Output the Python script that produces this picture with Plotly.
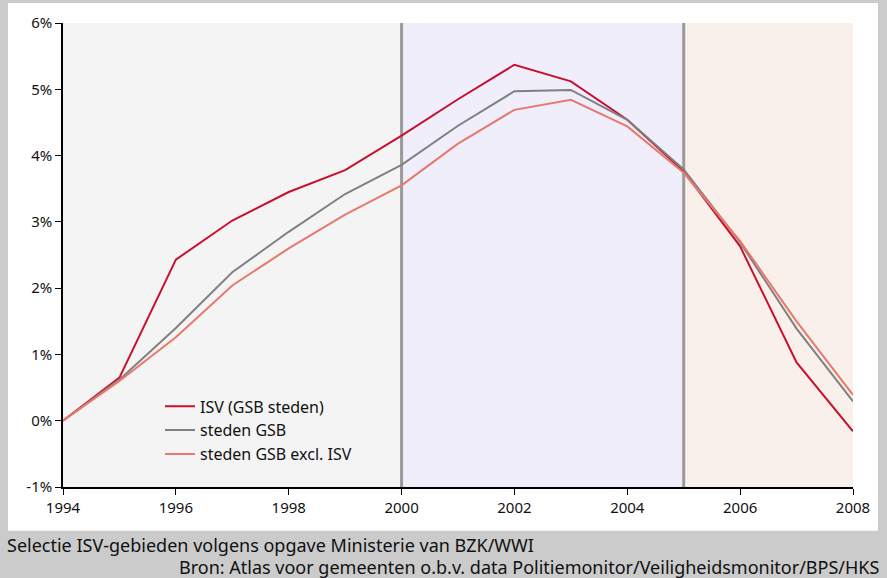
import plotly.graph_objects as go

years = list(range(1994, 2009))
isv = [0.0, 0.65, 2.43, 3.02, 3.45, 3.78, 4.30, 4.85, 5.37, 5.12, 4.54, 3.76, 2.63, 0.88, -0.16]
gsb = [0.0, 0.62, 1.40, 2.24, 2.85, 3.42, 3.86, 4.45, 4.97, 4.99, 4.54, 3.79, 2.69, 1.39, 0.29]
gsb_excl = [0.0, 0.60, 1.26, 2.04, 2.60, 3.11, 3.55, 4.18, 4.69, 4.84, 4.44, 3.74, 2.71, 1.50, 0.39]
names = ["ISV (GSB steden)", "steden GSB", "steden GSB excl. ISV"]
colors = ["#c8102e", "#808080", "#e8786c"]
y_ticks = [-1, 0, 1, 2, 3, 4, 5, 6]
y_tick_text = ["-1%", "0%", "1%", "2%", "3%", "4%", "5%", "6%"]
x_ticks = list(range(1994, 2009, 2))
periods = [(1994, 2000, "#f4f4f4"), (2000, 2005, "#efeefa"), (2005, 2008, "#f9f0ec")]
dividers = [2000, 2005]
footer1 = "Selectie ISV-gebieden volgens opgave Ministerie van BZK/WWI"
footer2 = "Bron: Atlas voor gemeenten o.b.v. data Politiemonitor/Veiligheidsmonitor/BPS/HKS"

W, H = 887, 578
L, R, T, B = 63, 853, 21, 487
pw, ph = R - L, B - T

def px(x):
    return (x - L) / pw

def py(y):
    return (B - y) / ph

fig = go.Figure()
for name, vals, c in zip(names, [isv, gsb, gsb_excl], colors):
    fig.add_trace(go.Scatter(x=years, y=vals, name=name, mode="lines",
                             line=dict(color=c, width=2)))

shapes = []
# white panel
shapes.append(dict(type="rect", xref="paper", yref="paper", x0=px(8), x1=px(878),
                   y0=py(531), y1=py(1), fillcolor="white", line=dict(width=0), layer="below"))
for a, b, c in periods:
    shapes.append(dict(type="rect", xref="x", yref="paper", x0=a, x1=b, y0=0, y1=1,
                       fillcolor=c, line=dict(width=0), layer="below"))
for d in dividers:
    shapes.append(dict(type="line", xref="x", yref="paper", x0=d, x1=d, y0=0, y1=1,
                       line=dict(color="#9a9a9a", width=3), layer="below"))

font = "Noto Sans"
fig.update_layout(
    width=W, height=H,
    margin=dict(l=L, r=W - R, t=T, b=H - B),
    paper_bgcolor="#cbcbcb",
    plot_bgcolor="rgba(0,0,0,0)",
    shapes=shapes,
    font=dict(family=font, size=15, color="#111111"),
    showlegend=True,
    legend=dict(x=px(160), y=py(389), xanchor="left", yanchor="top",
                bgcolor="rgba(0,0,0,0)", font=dict(size=16), tracegroupgap=0,
                itemwidth=30),
    xaxis=dict(range=[1994, 2008], tickvals=x_ticks, ticks="outside", ticklen=6,
               tickcolor="black", showline=True, linecolor="black", linewidth=1.5,
               showgrid=False, zeroline=False, tickfont=dict(size=15)),
    yaxis=dict(range=[-1, 6], tickvals=y_ticks, ticktext=y_tick_text, ticks="outside",
               ticklen=6, tickcolor="black", showline=True, linecolor="black", linewidth=1.5,
               showgrid=False, zeroline=False, tickfont=dict(size=15)),
    annotations=[
        dict(text=footer1, xref="paper", yref="paper", x=px(5), y=py(545), xanchor="left",
             yanchor="middle", showarrow=False, font=dict(size=18, color="#111111")),
        dict(text=footer2, xref="paper", yref="paper", x=px(882), y=py(567), xanchor="right",
             yanchor="middle", showarrow=False, font=dict(size=18, color="#111111")),
    ],
)

fig.write_html("out.html", config={"displayModeBar": False},
               post_script="document.body.style.margin='0';")
